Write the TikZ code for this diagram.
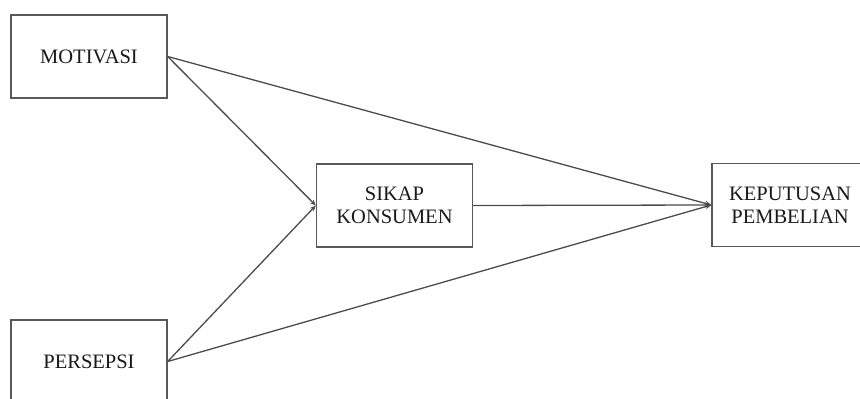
\documentclass[tikz,border=0pt]{standalone}
\usepackage{fontspec}
\setmainfont{Liberation Serif}
\usetikzlibrary{arrows.meta}
\begin{document}
\begin{tikzpicture}[x=1pt,y=-1pt,
  box/.style={draw=black!65, line width=1.4pt, fill=white, minimum width=156pt, minimum height=83pt,
    align=center, inner sep=0pt, font=\fontsize{20.5}{23.5}\selectfont, text=black!90},
  conn/.style={draw=black!70, line width=1.3pt, -{Stealth[length=6pt,width=5pt,fill=black]}}]
\useasboundingbox (0,0) rectangle (860,399);
\fill[white] (0,0) rectangle (860,399);
\node[box] (mot) at (89,56.5) {MOTIVASI};
\node[box] (per) at (89,361.5) {PERSEPSI};
\node[box] (sik) at (394.5,205.5) {SIKAP\\KONSUMEN};
\node[box] (kep) at (790,205) {KEPUTUSAN\\PEMBELIAN};
\draw[conn] (mot.east) -- (sik.west);
\draw[conn] (per.east) -- (sik.west);
\draw[conn] (mot.east) -- (kep.west);
\draw[conn] (per.east) -- (kep.west);
\draw[conn] (sik.east) -- (kep.west);
\end{tikzpicture}
\end{document}
